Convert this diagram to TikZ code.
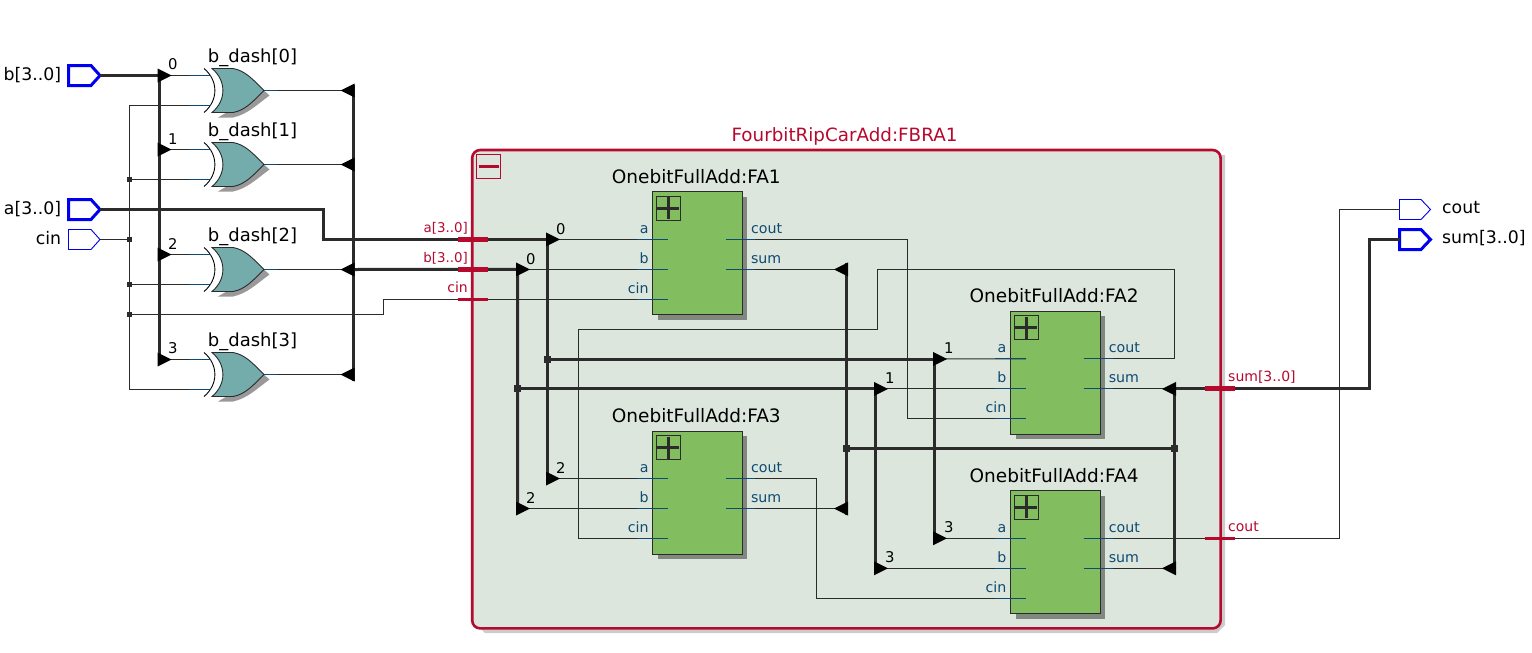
\documentclass[tikz,border=0pt]{standalone}
\usepackage{fontspec}
\setmainfont{DejaVu Sans}
\definecolor{wire}{HTML}{2B2B2B}
\definecolor{redq}{HTML}{B5092E}
\definecolor{bluet}{HTML}{0E4A72}
\definecolor{portb}{HTML}{0000F0}
\definecolor{grpfill}{HTML}{DDE6DD}
\definecolor{fagreen}{HTML}{82BE60}
\definecolor{gateteal}{HTML}{74ABAB}
\definecolor{fashadow}{HTML}{808880}
\tikzset{
  x=1pt,y=-1pt,
  thinw/.style={draw=wire,line width=1pt},
  bus/.style={draw=wire,line width=3pt,line join=miter},
  portthin/.style={draw=portb,line width=0.9pt,fill=white},
  portthick/.style={draw=portb,line width=3pt,fill=white},
  lblport/.style={inner sep=0pt,font=\fontsize{17.3}{20}\selectfont,text=black},
  lblgate/.style={inner sep=0pt,font=\fontsize{18}{21}\selectfont,text=black},
  lbltitle/.style={inner sep=0pt,font=\fontsize{18.5}{21}\selectfont,text=black},
  lblgroup/.style={inner sep=0pt,font=\fontsize{18.3}{21}\selectfont,text=redq},
  lblred/.style={inner sep=0pt,font=\fontsize{14}{16}\selectfont,text=redq},
  lblredb/.style={inner sep=0pt,font=\fontsize{13.4}{16}\selectfont,text=redq},
  lblpin/.style={inner sep=0pt,font=\fontsize{14.2}{16}\selectfont,text=bluet},
  lblnum/.style={inner sep=0pt,font=\fontsize{14.8}{16}\selectfont,text=black},
  tick/.style={draw=redq,line width=#1},
}
% triangles at a named coordinate
\newcommand{\triR}[1]{\fill[black] (#1) ++(-1.5,-7) -- ++(14,7) -- ++(-14,7) -- cycle;}
\newcommand{\triL}[1]{\fill[black] (#1) ++(1.5,-7) -- ++(-14,7) -- ++(14,7) -- cycle;}
\newcommand{\jbig}[1]{\fill[wire] (#1) ++(-3.5,-3.5) rectangle ++(7,7);}
\newcommand{\jsmall}[1]{\fill[wire] (#1) ++(-2.5,-2.5) rectangle ++(5,5);}
% block: name, x, y of top-left, title
\newcommand{\fablock}[4]{%
  \begin{scope}[shift={(#2,#3)}]
    \fill[fashadow] (5.5,5.5) rectangle (95,128.5);
    \node[draw=wire,line width=1pt,fill=fagreen,minimum width=89.5pt,minimum height=123pt,inner sep=0pt,anchor=north west] (#1) at (0,0) {};
    \node[lbltitle,anchor=base] (#1title) at (44,-8) {OnebitFullAdd:#4};
    \node[draw=wire,line width=1pt,minimum width=24pt,minimum height=24pt,inner sep=0pt] (#1btn) at (16,17) {};
    \draw[wire,line width=3pt] (5,17) -- (27,17) (16,6) -- (16,28);
    \coordinate (#1a) at (16,48);
    \coordinate (#1b) at (16,78);
    \coordinate (#1cin) at (16,108);
    \coordinate (#1cout) at (73.5,48);
    \coordinate (#1sum) at (73.5,78);
    \node[lblpin,anchor=base east] (#1la) at (-3.5,42) {a};
    \node[lblpin,anchor=base east] (#1lb) at (-3.5,72) {b};
    \node[lblpin,anchor=base east] (#1lc) at (-3.5,102) {cin};
    \node[lblpin,anchor=base west] (#1lo) at (98.5,42) {cout};
    \node[lblpin,anchor=base west] (#1ls) at (98.5,72) {sum};
  \end{scope}}
\newcommand{\pinsL}[1]{\draw[bluet,line width=1pt] (#1a) ++(-31,0) -- (#1a) (#1b) ++(-31,0) -- (#1b) (#1cin) ++(-31,0) -- (#1cin);}
\newcommand{\pinsR}[1]{\draw[bluet,line width=1pt] (#1cout) -- ++(29,0) (#1sum) -- ++(29,0);}
% gate: name, centre y, label
\newcommand{\xorgate}[3]{%
  \begin{scope}[shift={(212,#2)}]
    \fill[black!40] (6,27) -- (21,27) .. controls (35,24) and (44,15) .. (57.5,5) -- (52,0) -- cycle;
    \draw[fill=gateteal,draw=wire,line width=0.9pt] (0,-22) -- (21,-22) .. controls (33,-20) and (41,-11) .. (52,0) .. controls (41,11) and (33,20) .. (21,22) -- (0,22) .. controls (14.5,10) and (14.5,-10) .. (0,-22) -- cycle;
    \draw[black,line width=0.9pt] (-8,-22) .. controls (6.5,-10) and (6.5,10) .. (-8,22);
    \coordinate (#1i) at (-1,-15);
    \coordinate (#1j) at (-1,15);
    \coordinate (#1o) at (52,0);
    \node[lblgate,anchor=base west] (#1l) at (-4.3,-28.5) {#3};
  \end{scope}}
\begin{document}
\begin{tikzpicture}
\useasboundingbox (0,0) rectangle (1532,653);
% group
\path[fill=black!20] (477,155) -- (1225,155) -- (1225,625) -- (1217,633) -- (485,633) -- (477,625) -- cycle;
\node[minimum width=748pt,minimum height=478pt,inner sep=0pt,anchor=north west] (grp) at (472.2,150) {};
\draw[fill=grpfill,draw=redq,line width=2.6pt,rounded corners=8pt] (grp.north west) rectangle (grp.south east);
\node[lblgroup,anchor=base] (grptitle) at (844.5,141) {FourbitRipCarAdd:FBRA1};
\node[draw=redq,line width=0.8pt,minimum width=24pt,minimum height=24pt,inner sep=0pt] (grpbtn) at (488.5,166) {};
\draw[redq,line width=3pt] (478.5,166) -- (498.5,166);
% blocks
\fablock{FAa}{652.3}{191.4}{FA1}
\fablock{FAb}{1010.1}{310.9}{FA2}
\fablock{FAc}{652.3}{430.6}{FA3}
\fablock{FAd}{1010.1}{490.3}{FA4}
% gates
\xorgate{Ga}{90.5}{b\_dash[0]}
\xorgate{Gb}{164.5}{b\_dash[1]}
\xorgate{Gc}{269.5}{b\_dash[2]}
\xorgate{Gd}{374.5}{b\_dash[3]}
% ports
\path[portthick] (68.7,65.5) -- (91,65.5) -- (100,75.5) -- (91,85.5) -- (68.7,85.5) -- cycle;
\path[portthick] (68.7,199.5) -- (91,199.5) -- (100,209.5) -- (91,219.5) -- (68.7,219.5) -- cycle;
\path[portthin] (68.5,229.5) -- (91,229.5) -- (100,239.5) -- (91,249.5) -- (68.5,249.5) -- cycle;
\path[portthin] (1399.5,199.5) -- (1421,199.5) -- (1430.5,209.5) -- (1421,219.5) -- (1399.5,219.5) -- cycle;
\path[portthick] (1399.5,229.5) -- (1421,229.5) -- (1430.5,239.5) -- (1421,249.5) -- (1399.5,249.5) -- cycle;
\coordinate (pb) at (100,75.5);
\coordinate (pa) at (100,209.5);
\coordinate (pc) at (100,239.5);
\coordinate (pcout) at (1399.5,209.5);
\coordinate (psum) at (1399.5,239.5);
\node[lblport,anchor=base east] (tb) at (61.3,80.5) {b[3..0]};
\node[lblport,anchor=base east] (ta) at (61.3,214.5) {a[3..0]};
\node[lblport,anchor=base east] (tc) at (61.3,244.5) {cin};
\node[lblport,anchor=base west] (tcout) at (1442,213.5) {cout};
\node[lblport,anchor=base west] (tsum) at (1442,243.5) {sum[3..0]};
% junction and routing coordinates
\coordinate (bx0) at (159,75.5);
\coordinate (bx1) at (159,149.5);
\coordinate (bx2) at (159,254.5);
\coordinate (bx3) at (159,359.5);
\coordinate (dx0) at (353,90.5);
\coordinate (dx1) at (353,164.5);
\coordinate (dx2) at (353,269.5);
\coordinate (dx3) at (353,374.5);
\coordinate (aa0) at (547.5,239.4);
\coordinate (aaj) at (547.5,359);
\coordinate (aa2) at (547.5,478.6);
\coordinate (aa1) at (934.5,359);
\coordinate (aa3) at (934.5,538.3);
\coordinate (bb0) at (517.5,269.4);
\coordinate (bbj) at (517.5,388.9);
\coordinate (bb2) at (517.5,508.6);
\coordinate (bb1) at (875.5,388.9);
\coordinate (bb3) at (875.5,568.3);
\coordinate (sA) at (846.5,269.4);
\coordinate (sC) at (846.5,508.6);
\coordinate (sJ) at (846.5,448.5);
\coordinate (sK) at (1174.5,448.5);
\coordinate (sB) at (1174.5,388.9);
\coordinate (sD) at (1174.5,568.3);
% thin wires
\draw[thinw] (bx0) -- (Gai);
\draw[thinw] (bx1) -- (Gbi);
\draw[thinw] (bx2) -- (Gci);
\draw[thinw] (bx3) -- (Gdi);
\draw[thinw] (Gaj) -| (129.5,389.5) -- (Gdj);
\draw[thinw] (129.5,179.5) -- (Gbj);
\draw[thinw] (pc) -- (129.5,239.5);
\draw[thinw] (129.5,284.5) -- (Gcj);
\draw[thinw] (129.5,314.5) -- (383.5,314.5) -- (383.5,299.4) -- (FAacin);
\draw[thinw] (Gao) -- (dx0);
\draw[thinw] (Gbo) -- (dx1);
\draw[thinw] (Gco) -- (dx2);
\draw[thinw] (Gdo) -- (dx3);
\draw[thinw] (aa0) -- (FAaa);
\draw[thinw] (bb0) -- (FAab);
\draw[thinw] (aa1) -- (FAba);
\draw[thinw] (bb1) -- (FAbb);
\draw[thinw] (aa2) -- (FAca);
\draw[thinw] (bb2) -- (FAcb);
\draw[thinw] (aa3) -- (FAda);
\draw[thinw] (bb3) -- (FAdb);
\draw[thinw] (FAacout) -- (907,239.4) -- (907,418.9) -- (FAbcin);
\draw[thinw] (FAasum) -- (sA);
\draw[thinw] (FAbcout) -- (1174.5,358.9) -- (1174.5,269.5) -- (877,269.5) -- (877,329.5) -- (578,329.5) -- (578,538.6) -- (FAccin);
\draw[thinw] (FAbsum) -- (sB);
\draw[thinw] (FAccout) -- (816.5,478.6) -- (816.5,598.3) -- (FAdcin);
\draw[thinw] (FAcsum) -- (sC);
\draw[thinw] (FAdcout) -- (1339.5,538.3) -- (1339.5,209.5) -- (pcout);
\draw[thinw] (FAdsum) -- (sD);
% blue pin stubs
\pinsL{FAa}\pinsR{FAa}\pinsL{FAb}\pinsR{FAb}\pinsL{FAc}\pinsR{FAc}\pinsL{FAd}\pinsR{FAd}
\draw[bluet,line width=1pt] (Gai) ++(-22,0) -- (Gai) (Gaj) ++(-22,0) -- (Gaj) (Gbi) ++(-22,0) -- (Gbi) (Gbj) ++(-22,0) -- (Gbj) (Gci) ++(-22,0) -- (Gci) (Gcj) ++(-22,0) -- (Gcj) (Gdi) ++(-22,0) -- (Gdi) (Gdj) ++(-22,0) -- (Gdj);
\draw[bluet,line width=1pt] (Gao) -- ++(13,0) (Gbo) -- ++(13,0) (Gco) -- ++(13,0) (Gdo) -- ++(13,0);
% buses
\draw[bus] (pb) -- (bx0);
\draw[bus] (bx0) -- (bx3);
\draw[bus] (pa) -- (323.5,209.5) -- (323.5,239.4) -- (aa0) -- (aa2);
\draw[bus] (dx0) ++(0,-6) -- (353,380.5);
\draw[bus] (dx2) -- (bb0) -- (bb2);
\draw[bus] (aaj) -- (aa1) -- (aa3);
\draw[bus] (bbj) -- (bb1) -- (bb3);
\draw[bus] (sA) ++(0,-6) -- (846.5,514.6);
\draw[bus] (sJ) -- (sK);
\draw[bus] (sB) ++(0,-0) -- (1174.5,574.3);
\draw[bus] (sB) -- (1369.5,388.9) -- (1369.5,239.5) -- (psum);
% triangles
\triR{bx0}\triR{bx1}\triR{bx2}\triR{bx3}
\triL{dx0}\triL{dx1}\triL{dx2}\triL{dx3}
\triR{aa0}\triR{aa1}\triR{aa2}\triR{aa3}
\triR{bb0}\triR{bb1}\triR{bb2}\triR{bb3}
\triL{sA}\triL{sC}\triL{sB}\triL{sD}
% junctions
\jsmall{129.5,179.5}\jsmall{129.5,239.5}\jsmall{129.5,284.5}\jsmall{129.5,314.5}
\jbig{aaj}\jbig{bbj}\jbig{sJ}\jbig{sK}
% boundary ticks
\draw[tick=5pt] (457.5,239.4) -- (488,239.4);
\draw[tick=5pt] (457.5,269.4) -- (488,269.4);
\draw[tick=3pt] (457.5,299.4) -- (488,299.4);
\draw[tick=5pt] (1204.5,388.9) -- (1235,388.9);
\draw[tick=3pt] (1204.5,538.3) -- (1235,538.3);
\node[lblredb,anchor=base east] (ra) at (468,232) {a[3..0]};
\node[lblredb,anchor=base east] (rb) at (468,262) {b[3..0]};
\node[lblred,anchor=base east] (rc) at (468,292) {cin};
\node[lblred,anchor=base west] (rs) at (1228,381) {sum[3..0]};
\node[lblred,anchor=base west] (ro) at (1228,531) {cout};
% bit numbers
\node[lblnum,anchor=base west] (n1) at (168,69) {0};
\node[lblnum,anchor=base west] (n2) at (168,144) {1};
\node[lblnum,anchor=base west] (n3) at (168,249) {2};
\node[lblnum,anchor=base west] (n4) at (168,353) {3};
\node[lblnum,anchor=base west] (n5) at (556,234) {0};
\node[lblnum,anchor=base west] (n6) at (526,264) {0};
\node[lblnum,anchor=base west] (n7) at (556,473) {2};
\node[lblnum,anchor=base west] (n8) at (526,503) {2};
\node[lblnum,anchor=base west] (n9) at (944,353) {1};
\node[lblnum,anchor=base west] (n10) at (885,383) {1};
\node[lblnum,anchor=base west] (n11) at (944,532) {3};
\node[lblnum,anchor=base west] (n12) at (885,562) {3};
\end{tikzpicture}
\end{document}
